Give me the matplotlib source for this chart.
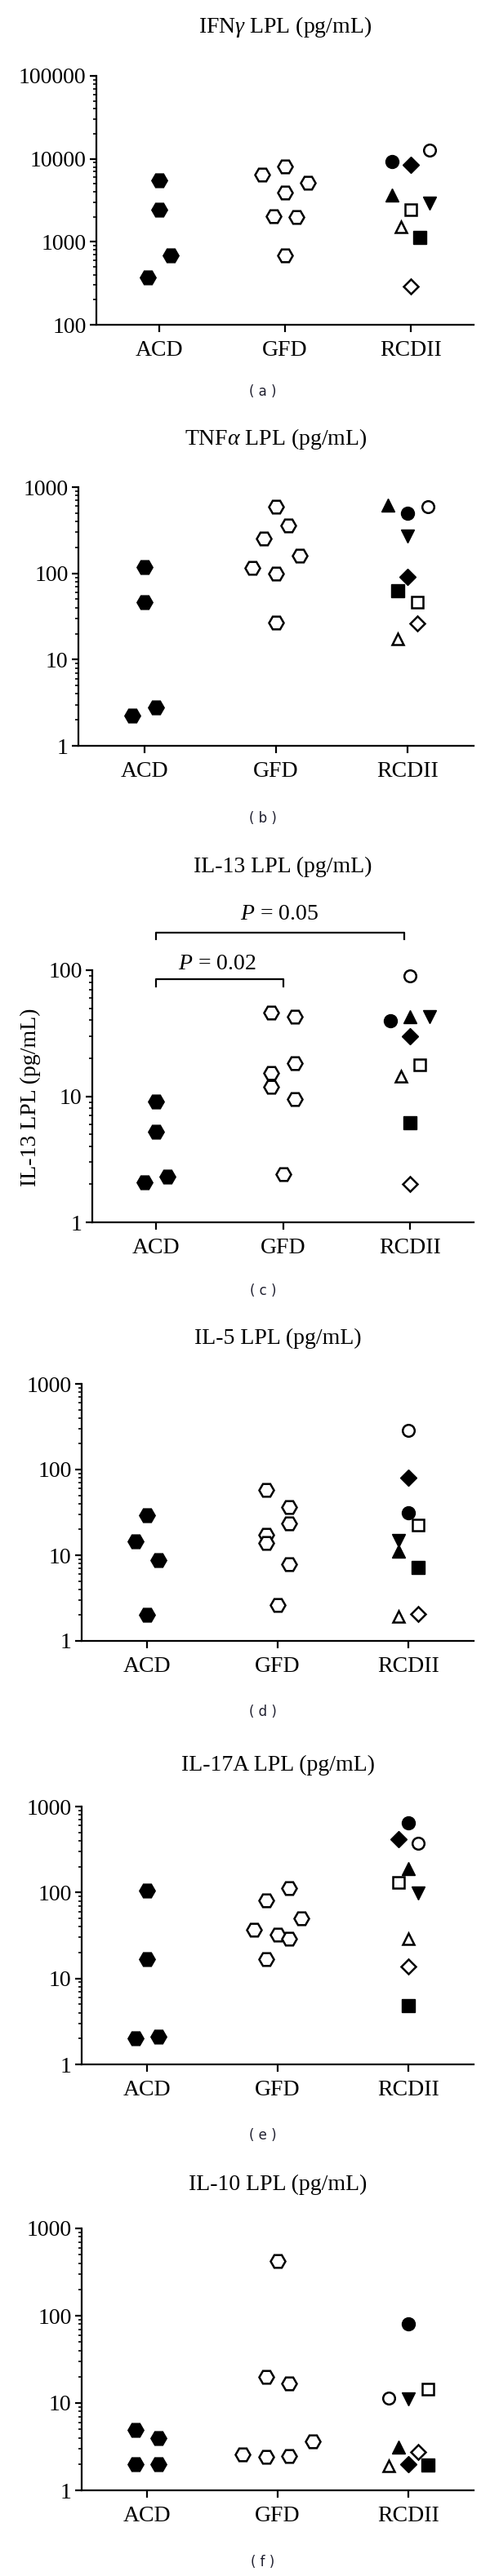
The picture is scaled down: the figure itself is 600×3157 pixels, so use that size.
import matplotlib
matplotlib.use('Agg')
import matplotlib.pyplot as plt
from matplotlib.ticker import LogLocator, FuncFormatter, NullFormatter

plt.rcParams['font.family'] = ['Liberation Serif', 'DejaVu Serif']
plt.rcParams['mathtext.fontset'] = 'custom'
plt.rcParams['mathtext.rm'] = 'Liberation Serif'
plt.rcParams['mathtext.it'] = 'Liberation Serif:italic'

# ---- data (pg/mL) ----
groups = ['ACD', 'GFD', 'RCDII']
titles = [r'IFN$\gamma$ LPL (pg/mL)', r'TNF$\alpha$ LPL (pg/mL)', 'IL-13 LPL (pg/mL)',
          'IL-5 LPL (pg/mL)', 'IL-17A LPL (pg/mL)', 'IL-10 LPL (pg/mL)']
panel_tags = ['( a )', '( b )', '( c )', '( d )', '( e )', '( f )']
ylims = [(100, 100000), (1, 1000), (1, 100), (1, 1000), (1, 1000), (1, 1000)]

acd = [
    [5500, 2450, 690, 376],
    [117, 46.8, 2.25, 2.76],
    [9.1, 5.26, 2.07, 2.32],
    [29.5, 14.5, 8.83, 2.0],
    [105, 16.6, 2.03, 2.10],
    [4.93, 3.97, 1.98, 1.98],
]
acd_jit = [
    [0, 0, 0.09, -0.09],
    [0, 0, -0.09, 0.09],
    [0, 0, -0.09, 0.09],
    [0, -0.09, 0.09, 0],
    [0, 0, -0.09, 0.09],
    [-0.09, 0.09, -0.09, 0.09],
]

gfd = [
    [6400, 8050, 5100, 3930, 2030, 1990, 678],
    [593, 362, 256, 160, 116, 100, 26.9],
    [45.8, 42.9, 18.2, 15.4, 11.9, 9.52, 2.42],
    [57.8, 36.7, 23.7, 17.3, 13.9, 7.8, 2.6],
    [113, 80.7, 49.6, 36.5, 32.0, 29.1, 16.9],
    [425, 20.1, 16.7, 3.65, 2.58, 2.41, 2.49],
]
gfd_jit = [
    [-0.18, 0, 0.18, 0, -0.09, 0.09, 0],
    [0, 0.09, -0.09, 0.18, -0.18, 0, 0],
    [-0.09, 0.09, 0.09, -0.09, -0.09, 0.09, 0],
    [-0.09, 0.09, 0.09, -0.09, -0.09, 0.09, 0],
    [0.09, -0.09, 0.18, -0.18, 0, 0.09, -0.09],
    [0, -0.09, 0.09, 0.27, -0.27, -0.09, 0.09],
]

# RCDII patients: filled circle, filled up-tri, filled down-tri, filled diamond,
# filled square, open circle, open triangle, open square, open diamond
rcd = [
    [9230, 3690, 2900, 8490, 1125, 12850, 1525, 2430, 288],
    [502, 624, 271, 91.2, 63.4, 593, 17.4, 46.8, 26.2],
    [39.8, 42.5, 42.5, 29.8, 6.18, 89.5, 14.4, 17.8, 2.0],
    [31.3, 11.2, 15.0, 80.9, 7.2, 284, 1.95, 22.3, 2.05],
    [646, 188, 99, 420, 4.8, 377, 28.7, 130, 13.8],
    [79.8, 3.16, 11.1, 1.98, 1.94, 11.5, 1.91, 14.3, 2.74],
]
rcd_jit = [
    [-0.15, -0.15, 0.15, 0, 0.07, 0.15, -0.075, 0, 0],
    [0, -0.15, 0, 0, -0.075, 0.15, -0.075, 0.075, 0.075],
    [-0.155, 0, 0.15, 0, 0, 0, -0.07, 0.075, 0],
    [0, -0.075, -0.075, 0, 0.077, 0, -0.075, 0.077, 0.077],
    [0, 0, 0.077, -0.075, 0, 0.077, 0, -0.075, 0],
    [0, -0.075, 0, 0, 0.15, -0.15, -0.15, 0.15, 0.077],
]
rcd_markers = ['o', '^', 'v', 'D', 's', 'o', '^', 's', 'D']
rcd_filled = [True, True, True, True, True, False, False, False, False]

p_labels = [r'$P$ = 0.02', r'$P$ = 0.05']

# ---- layout (pixels) ----
W, H = 600, 3157
axes_px = [(118, 93, 398), (96, 597, 914), (113, 1189, 1498),
           (100, 1696, 2011), (100, 2214, 2530), (100, 2731, 3052)]
title_y = [33, 538, 1062, 1640, 2163, 2677]
tag_y = [480, 1003, 1582, 2098, 2617, 3140]
right_px = 580

filled_size = {'H': 14, 'o': 11.5, 's': 12, '^': 12, 'v': 12, 'D': 10}
open_size = {'H': 13, 'o': 10.5, 's': 10.5, '^': 10.5, 'v': 10.5, 'D': 9}


def dot(ax, x, y, marker, filled):
    if filled:
        ax.plot(x, y, ls='none', marker=marker, ms=filled_size[marker], mfc='black',
                mec='black', mew=1.0, clip_on=False, zorder=3)
    else:
        ax.plot(x, y, ls='none', marker=marker, ms=open_size[marker], mfc='white',
                mec='black', mew=1.8, clip_on=False, zorder=3)


fig = plt.figure(figsize=(W / 100, H / 100), dpi=100)

for i in range(6):
    left, top, bottom = axes_px[i]
    ax = fig.add_axes([left / W, 1 - bottom / H, (right_px - left) / W, (bottom - top) / H])
    ax.set_yscale('log')
    ax.set_ylim(*ylims[i])
    ax.set_xlim(-0.5, 2.5)

    xs = [0 + j for j in acd_jit[i]]
    for x, y in zip(xs, acd[i]):
        dot(ax, x, y, 'H', True)
    xs = [1 + j for j in gfd_jit[i]]
    for x, y in zip(xs, gfd[i]):
        dot(ax, x, y, 'H', False)
    for k in range(len(rcd[i])):
        dot(ax, 2 + rcd_jit[i][k], rcd[i][k], rcd_markers[k], rcd_filled[k])

    for s in ['top', 'right']:
        ax.spines[s].set_visible(False)
    for s in ['left', 'bottom']:
        ax.spines[s].set_linewidth(1.6)

    ax.yaxis.set_major_locator(LogLocator(base=10))
    ax.yaxis.set_minor_locator(LogLocator(base=10, subs=range(2, 10)))
    ax.yaxis.set_major_formatter(FuncFormatter(lambda v, p: '%d' % round(v)))
    ax.yaxis.set_minor_formatter(NullFormatter())
    ax.tick_params(axis='y', which='major', direction='out', length=6, width=1.6,
                   labelsize=20, pad=3)
    ax.tick_params(axis='y', which='minor', direction='out', length=3, width=1.2)
    ax.set_xticks([0, 1, 2])
    ax.set_xticklabels(groups)
    ax.tick_params(axis='x', direction='out', length=6.5, width=1.6, labelsize=20, pad=7)

    cx = (left + right_px) / 2 / W
    fig.text(cx, 1 - title_y[i] / H, titles[i], ha='center', va='center', fontsize=20)
    fig.text(322 / W, 1 - tag_y[i] / H, panel_tags[i], ha='center', va='center',
             fontsize=12, family='DejaVu Sans', color='#202030')

    if i == 2:
        # significance brackets
        ax.plot([0, 0, 1, 1], [74, 85, 85, 74], color='black', lw=1.6, clip_on=False)
        ax.plot([0, 0, 1.955, 1.955], [176, 199, 199, 176], color='black', lw=1.6,
                clip_on=False)
        ax.text(0.484, 112, p_labels[0], ha='center', va='center', fontsize=20)
        ax.text(0.97, 276, p_labels[1], ha='center', va='center', fontsize=20)
        fig.text(37 / W, 1 - 1345 / H, 'IL-13 LPL (pg/mL)', rotation=90, ha='center',
                 va='center', fontsize=20)

fig.savefig('out.png', dpi=100, facecolor='white')
